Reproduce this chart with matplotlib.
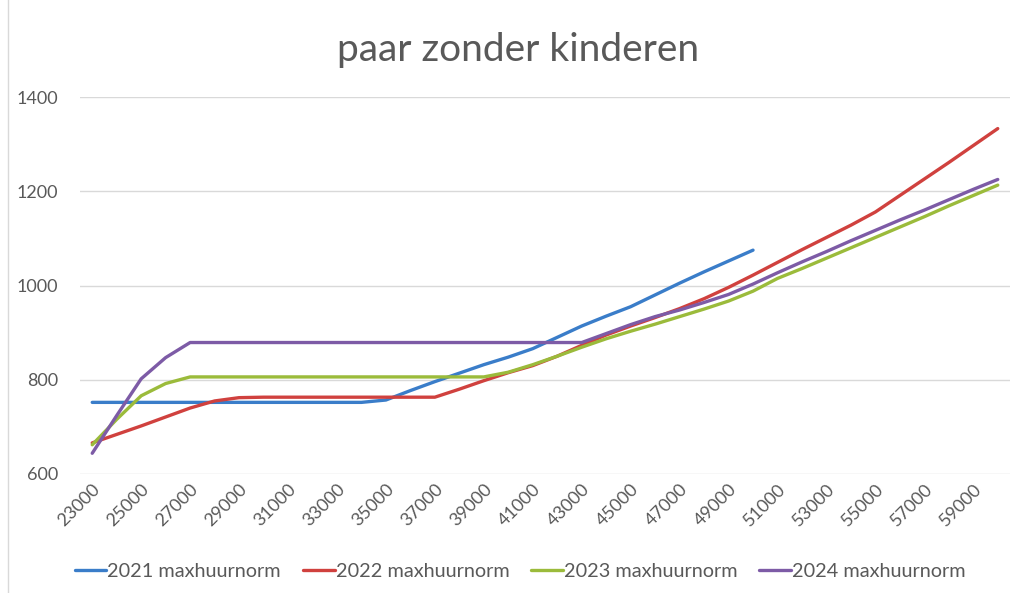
import numpy as np
import matplotlib
matplotlib.use('Agg')
import matplotlib.pyplot as plt
from matplotlib import rcParams
from matplotlib.lines import Line2D

rcParams['font.family'] = ['Lato', 'DejaVu Sans']

# Inkomen (categorieen) en maximale huur per jaar
inkomen = list(range(23000, 61000, 1000))
nan = np.nan

huur_2021 = [752] * 12 + [757, 777, 796, 814, 832, 848, 866, 890, 914, 935,
                          955, 980, 1005, 1029, 1052, 1075] + [nan] * 10
huur_2022 = [666, 684, 702, 721, 740, 755, 762] + [763] * 8 + [
    780, 798, 815, 830, 850, 873, 895, 914, 932, 951, 972, 996, 1022,
    1049, 1076, 1102, 1128, 1156, 1191, 1226, 1261, 1297, 1333]
huur_2023 = [662, 716, 766, 792, 806] + [806] * 12 + [
    816, 832, 850, 869, 887, 903, 918, 934, 950, 967, 988, 1015, 1036,
    1058, 1080, 1102, 1124, 1146, 1169, 1191, 1213]
huur_2024 = [644, 724, 802, 847, 879] + [879] * 16 + [
    898, 917, 934, 948, 964, 981, 1003, 1027, 1050, 1072, 1095, 1117,
    1139, 1160, 1182, 1204, 1225]

reeksen = [
    ('2021 maxhuurnorm', huur_2021, '#3A7DC9'),
    ('2022 maxhuurnorm', huur_2022, '#D0413E'),
    ('2023 maxhuurnorm', huur_2023, '#9BBB3B'),
    ('2024 maxhuurnorm', huur_2024, '#7D5BA6'),
]

tekst_kleur = '#595959'

fig = plt.figure(figsize=(10.18, 5.93), dpi=100)
ax = fig.add_axes([80 / 1018, 1 - 474 / 593, 930 / 1018, 377 / 593])

x = np.arange(len(inkomen))
for naam, waarden, kleur in reeksen:
    ax.plot(x, waarden, color=kleur, lw=2.4, label=naam, solid_capstyle='round')

ax.set_xlim(-0.5, len(inkomen) - 0.5)
ax.set_ylim(600, 1400)
ax.set_yticks([600, 800, 1000, 1200, 1400])
ax.set_xticks(x[::2])
ax.set_xticklabels([str(v) for v in inkomen[::2]], rotation=45, ha='right',
                   rotation_mode='anchor')

ax.grid(axis='y', color='#d9d9d9', lw=1)
ax.set_axisbelow(True)
for s in ax.spines.values():
    s.set_visible(False)
ax.tick_params(length=0, colors=tekst_kleur, labelsize=13)
ax.tick_params(axis='y', pad=16)
ax.tick_params(axis='x', pad=5)

fig.text(0.509, 0.915, 'paar zonder kinderen', ha='center', va='center',
         fontsize=28, color=tekst_kleur)

fig.legend(loc='center', bbox_to_anchor=(0.511, 0.036), ncol=4, frameon=False,
           fontsize=14.3, handlelength=1.6, columnspacing=1.1, handletextpad=0.05,
           labelcolor=tekst_kleur)

# lichte rand links van het diagram
fig.add_artist(Line2D([7.5 / 1018, 7.5 / 1018], [0, 1], color='#d9d9d9', lw=1))

fig.savefig('out.png', dpi=100)
